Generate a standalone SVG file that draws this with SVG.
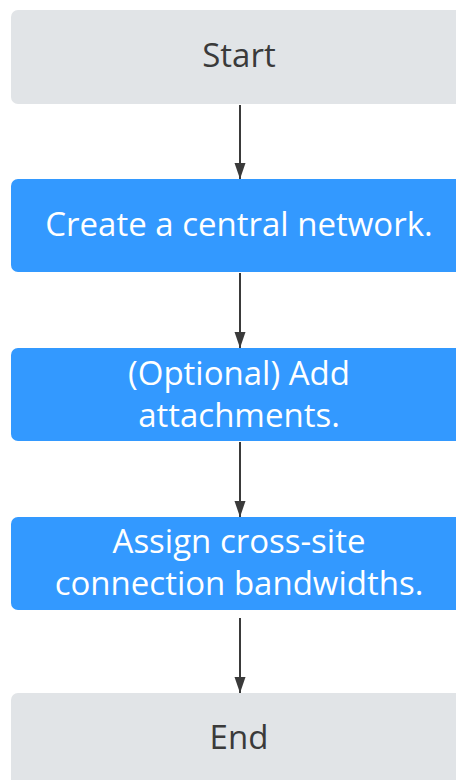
<svg xmlns="http://www.w3.org/2000/svg" width="456" height="780" viewBox="0 0 456 780">
<style>
.gray{fill:#E1E4E7}
.blue{fill:#3399FF}
text{font-family:"Open Sans","DejaVu Sans",sans-serif;font-size:33px;text-anchor:middle}
.dt{fill:#3a3a3a}
.wt{fill:#FFFFFF}
.conn{stroke:#3a3a3a;stroke-width:2;fill:none;marker-end:url(#ah)}
</style>
<defs>
<marker id="ah" markerWidth="16" markerHeight="12" refX="16" refY="6" orient="auto" markerUnits="userSpaceOnUse" viewBox="0 0 16 12">
<path d="M0,0.5 L16,6 L0,11.5 z" fill="#3a3a3a"/>
</marker>
</defs>
<g id="start"><rect class="gray" x="11" y="10" width="460" height="94" rx="7"/><text class="dt" x="239" y="67">Start</text></g>
<g id="create"><rect class="blue" x="11" y="179" width="460" height="93" rx="7"/><text class="wt" x="239" y="236">Create a central network.</text></g>
<g id="optional"><rect class="blue" x="11" y="348" width="460" height="93" rx="7"/><text class="wt" x="239" y="385">(Optional) Add</text><text class="wt" x="239" y="427">attachments.</text></g>
<g id="assign"><rect class="blue" x="11" y="517" width="460" height="93" rx="7"/><text class="wt" x="239" y="553">Assign cross-site</text><text class="wt" x="239" y="595">connection bandwidths.</text></g>
<g id="end"><rect class="gray" x="11" y="693" width="460" height="100" rx="7"/><text class="dt" x="239" y="749">End</text></g>
<g id="connectors">
<line class="conn" x1="240" y1="105" x2="240" y2="179"/>
<line class="conn" x1="240" y1="273" x2="240" y2="348"/>
<line class="conn" x1="240" y1="442" x2="240" y2="517"/>
<line class="conn" x1="240" y1="618" x2="240" y2="693"/>
</g>
</svg>
